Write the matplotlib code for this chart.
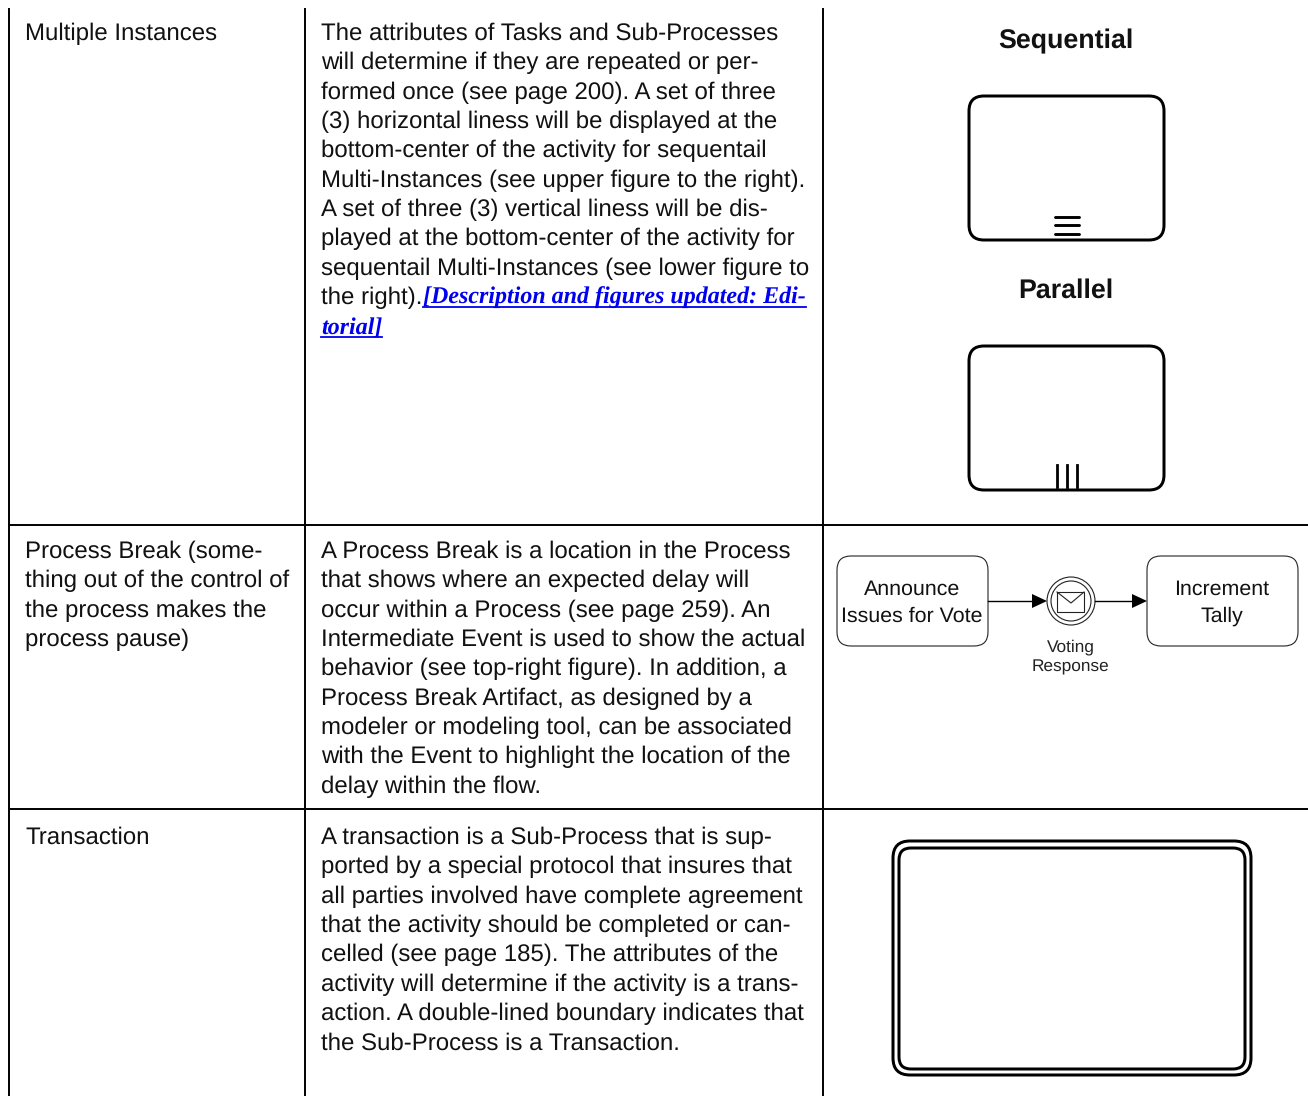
#!/usr/bin/env python3
import matplotlib
matplotlib.use("Agg")
import matplotlib.pyplot as plt
from matplotlib.patches import Circle, FancyBboxPatch, Polygon

plt.rcParams["font.family"] = ["Liberation Sans", "DejaVu Sans"]
plt.rcParams["text.hinting"] = "no_hinting"

W, H = 1308, 1096
LINE_STEP = 29.35
BODY_SIZE = 17.25

column_lines = [9, 305, 823]
row_lines = [525, 809]
row_baselines = [40, 558, 844]

names = [
    ["Multiple Instances"],
    ["Process Break (some-", "thing out of the control of",
     "the process makes the", "process pause)"],
    ["Transaction"],
]
descriptions = [
    ["The attributes of Tasks and Sub-Processes",
     "will determine if they are repeated or per-",
     "formed once (see page 200). A set of three",
     "(3) horizontal liness will be displayed at the",
     "bottom-center of the activity for sequentail",
     "Multi-Instances (see upper figure to the right).",
     "A set of three (3) vertical liness will be dis-",
     "played at the bottom-center of the activity for",
     "sequentail Multi-Instances (see lower figure to",
     "the right)."],
    ["A Process Break is a location in the Process",
     "that shows where an expected delay will",
     "occur within a Process (see page 259). An",
     "Intermediate Event is used to show the actual",
     "behavior (see top-right figure). In addition, a",
     "Process Break Artifact, as designed by a",
     "modeler or modeling tool, can be associated",
     "with the Event to highlight the location of the",
     "delay within the flow."],
    ["A transaction is a Sub-Process that is sup-",
     "ported by a special protocol that insures that",
     "all parties involved have complete agreement",
     "that the activity should be completed or can-",
     "celled (see page 185). The attributes of the",
     "activity will determine if the activity is a trans-",
     "action. A double-lined boundary indicates that",
     "the Sub-Process is a Transaction."],
]
link_lines = ["[Description and figures updated: Edi-", "torial]"]


def round_box(ax, x0, y0, x1, y1, radius, lw, color="black"):
    box = FancyBboxPatch((x0 + radius, y0 + radius), x1 - x0 - 2 * radius, y1 - y0 - 2 * radius,
                         boxstyle=f"round,pad={radius},rounding_size={radius}",
                         fc="white", ec=color, lw=lw * 0.72)
    ax.add_patch(box)


def flow_arrow(ax, x0, x1, y, head=15, half=7):
    ax.plot([x0, x1 - head], [y, y], color="black", lw=1.0)
    ax.add_patch(Polygon([[x1 - head, y - half], [x1, y], [x1 - head, y + half]], fc="black", ec="none"))


def link_text(fig, ax, x, y, text):
    t = ax.text(x, y, text, family="Liberation Serif", style="italic", weight="bold",
                size=BODY_SIZE, color="#0000f0", va="baseline")
    width = t.get_window_extent(fig.canvas.get_renderer()).width
    ax.plot([x, x + width], [y + 3, y + 3], color="#0000f0", lw=1.3)


fig = plt.figure(figsize=(W / 100, H / 100), dpi=100)
ax = fig.add_axes([0, 0, 1, 1])
ax.set_xlim(0, W)
ax.set_ylim(H, 0)
ax.axis("off")

for x in column_lines:
    ax.plot([x, x], [9, H], color="black", lw=1.4)
for y in row_lines:
    ax.plot([column_lines[0], W], [y, y], color="black", lw=1.4)

for base, lines in zip(row_baselines, names):
    for i, line in enumerate(lines):
        ax.text(25, base + i * LINE_STEP, line, size=BODY_SIZE, color="#111111", va="baseline")
for base, lines in zip(row_baselines, descriptions):
    for i, line in enumerate(lines):
        ax.text(321, base + i * LINE_STEP, line, size=BODY_SIZE, color="#111111", va="baseline")

link_text(fig, ax, 423, 304, link_lines[0])
link_text(fig, ax, 321, 333.5, link_lines[1])

# multiple instance markers
ax.text(1066, 48, "Sequential", size=19.3, weight="bold", ha="center", va="baseline", color="#111111")
round_box(ax, 969, 96, 1164, 240, 15, 3)
for y in [216.5, 225, 233.5]:
    ax.plot([1055, 1079], [y, y], color="black", lw=2.1, solid_capstyle="round")

ax.text(1066, 297.5, "Parallel", size=19.3, weight="bold", ha="center", va="baseline", color="#111111")
round_box(ax, 969, 346, 1164, 490, 15, 3)
for x in [1057, 1067, 1077]:
    ax.plot([x, x], [465, 487], color="black", lw=2.0)

# process break example
round_box(ax, 837, 556, 988, 646, 14, 1.1, "#222222")
round_box(ax, 1147, 556, 1298, 646, 14, 1.1, "#222222")
ax.text(912, 595, "Announce", size=15.4, ha="center", va="baseline", color="#111111")
ax.text(912, 622, "Issues for Vote", size=15.4, ha="center", va="baseline", color="#111111")
ax.text(1222, 595, "Increment", size=15.4, ha="center", va="baseline", color="#111111")
ax.text(1222, 622, "Tally", size=15.4, ha="center", va="baseline", color="#111111")
flow_arrow(ax, 988, 1047, 601)
flow_arrow(ax, 1095, 1147, 601)
ax.add_patch(Circle((1071, 601), 24, fc="white", ec="#222222", lw=0.8))
ax.add_patch(Circle((1071, 601), 20, fc="white", ec="#222222", lw=0.8))
ax.add_patch(Polygon([[1057, 592], [1084, 592], [1084, 612], [1057, 612]], fc="white", ec="#222222", lw=0.8))
ax.plot([1057, 1071, 1084], [592, 603, 592], color="#222222", lw=0.8)
ax.text(1070.5, 651, "Voting", size=12.4, ha="center", va="baseline", color="#222222")
ax.text(1070.5, 671, "Response", size=12.4, ha="center", va="baseline", color="#222222")

# transaction
round_box(ax, 893, 841, 1251, 1075, 17, 3)
round_box(ax, 899, 848, 1245, 1069, 12, 3)

fig.savefig("out.png", dpi=100)
plt.close(fig)
